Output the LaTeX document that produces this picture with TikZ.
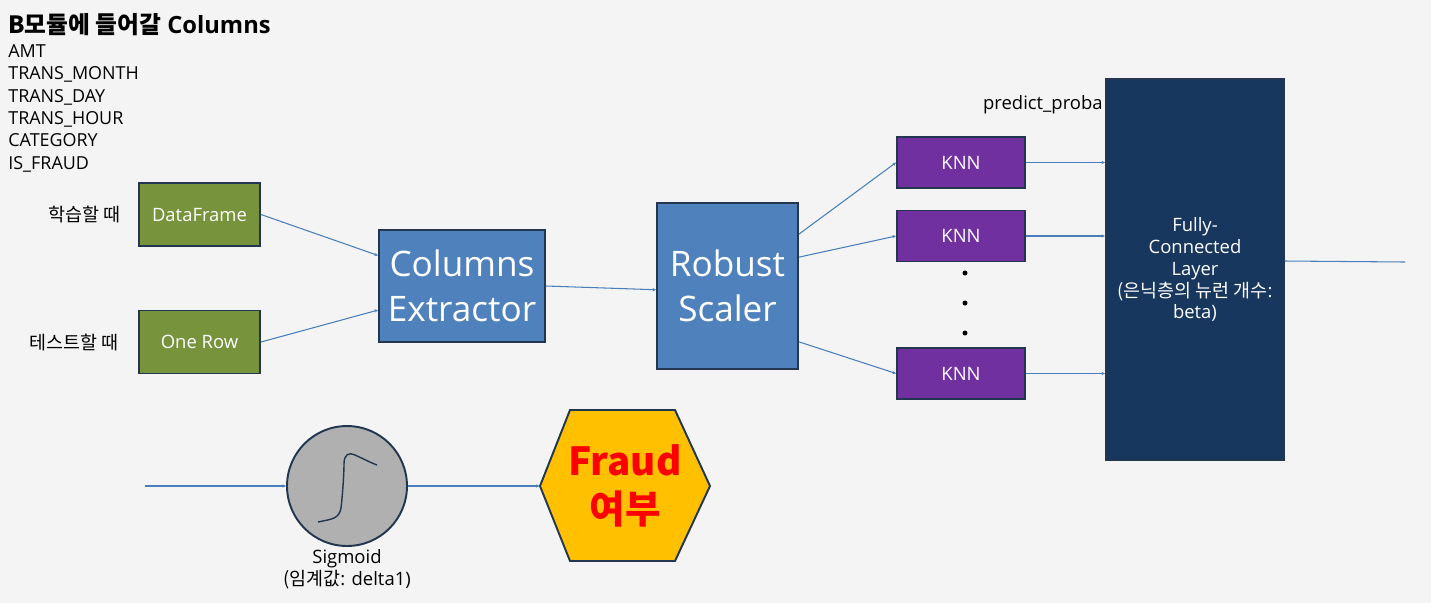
\documentclass[tikz,border=0pt]{standalone}
\usepackage{fontspec}
\setmainfont{Open Sans}
\newfontfamily\kr{Noto Sans CJK KR}
\usetikzlibrary{positioning, shapes.geometric, arrows.meta}

\definecolor{bgGray}{HTML}{F4F4F4}
\definecolor{boxLine}{HTML}{22364F}
\definecolor{dfGreen}{HTML}{77933C}
\definecolor{stepBlue}{HTML}{4F81BD}
\definecolor{knnPurple}{HTML}{7030A0}
\definecolor{fcNavy}{HTML}{17375E}
\definecolor{sigGray}{HTML}{B0B0B0}
\definecolor{fraudYellow}{HTML}{FFC000}
\definecolor{linkBlue}{HTML}{4A7EBB}

\tikzset{
    box/.style={draw=boxLine, line width=1.1pt, text=white, align=center, inner sep=0pt},
    inbox/.style={box, fill=dfGreen, minimum width=2.42cm, minimum height=1.26cm, font=\fontsize{10.5}{12.5}\selectfont},
    bigbox/.style={box, fill=stepBlue, font=\fontsize{20}{25.5}\selectfont},
    knnbox/.style={box, fill=knnPurple, minimum width=2.56cm, minimum height=1.02cm, font=\fontsize{10.5}{12.5}\selectfont},
    side/.style={font=\kr\fontsize{10.5}{12.5}\selectfont, inner sep=0pt},
    link/.style={draw=linkBlue, line width=0.6pt, ->},
}

\begin{document}
\begin{tikzpicture}[x=0.02cm, y=-0.02cm, >={Stealth[length=2pt,width=1.8pt]}]
    \useasboundingbox[fill=bgGray] (0,0) rectangle (1431,603);

    % Columns list
    \node[anchor=west, inner sep=0pt, font=\fontsize{13.5}{15}\selectfont\bfseries] (title) at (8,25) {{\kr\bfseries B모듈에 들어갈} Columns};
    \node[anchor=north west, inner sep=0pt, align=left, font=\fontsize{10.2}{12.75}\selectfont] (cols) at (8,44)
        {AMT\\TRANS\_MONTH\\TRANS\_DAY\\TRANS\_HOUR\\CATEGORY\\IS\_FRAUD};

    % Inputs
    \node[inbox] (df) at (199.5,214.5) {DataFrame};
    \node[side, left=0.34cm of df] (train) {학습할 때};
    \node[inbox] (onerow) at (199.5,342) {One Row};
    \node[side, left=0.38cm of onerow] (test) {테스트할 때};

    % Preprocessing
    \node[bigbox, minimum width=3.32cm, minimum height=2.24cm] (colx) at (462,286) {Columns\\Extractor};
    \node[bigbox, minimum width=2.82cm, minimum height=3.32cm] (scaler) at (727.5,286) {Robust\\Scaler};

    % KNN models
    \node[knnbox] (knn1) at (961,162.5) {KNN};
    \node[knnbox] (knn2) at (961,236) {KNN};
    \node[knnbox] (knn3) at (961,373.5) {KNN};
    \foreach \y in {273,303,333}
        \fill (965,\y) circle (2.5);
    \node[anchor=east, inner sep=0pt, font=\fontsize{10.5}{12.5}\selectfont] (proba) at (1103,105) {predict\_proba};

    % Fully-connected layer
    \node[box, fill=fcNavy, minimum width=3.56cm, minimum height=7.62cm, font=\fontsize{10.5}{12.5}\selectfont] (fc) at (1195,269.5)
        {Fully-\\Connected\\Layer\\{\kr (은닉층의 뉴런 개수}:\\beta)};
    \coordinate (fcout) at (1405,262);

    % Sigmoid
    \coordinate (sigin) at (145,486);
    \node[circle, draw=boxLine, line width=1.1pt, fill=sigGray, minimum size=2.4cm, inner sep=0pt] (sig) at (347,486) {};
    \draw[boxLine, line width=0.8pt] ([shift={(-29,36)}]sig.center) .. controls ([shift={(-15,33)}]sig.center) and ([shift={(-8,33)}]sig.center) .. ([shift={(-6,22)}]sig.center)
        .. controls ([shift={(-4,5)}]sig.center) and ([shift={(-3,-15)}]sig.center) .. ([shift={(-3,-22)}]sig.center)
        .. controls ([shift={(-3,-32)}]sig.center) and ([shift={(2,-34)}]sig.center) .. ([shift={(8,-31)}]sig.center)
        .. controls ([shift={(15,-28)}]sig.center) and ([shift={(22,-24)}]sig.center) .. ([shift={(30,-21)}]sig.center);
    \node[below=0.04cm of sig, align=center, inner sep=0pt, font=\fontsize{10.5}{12.5}\selectfont] (siglabel) {Sigmoid\\{\kr (임계값}: delta1)};

    % Output
    \coordinate (hexc) at (625,486);
    \draw[draw=boxLine, line width=1.1pt, fill=fraudYellow] ([shift={(-85,0)}]hexc) -- ([shift={(-55,-76)}]hexc) -- ([shift={(50,-76)}]hexc)
        -- ([shift={(85,0)}]hexc) -- ([shift={(50,75)}]hexc) -- ([shift={(-55,75)}]hexc) -- cycle;
    \node[minimum width=3.4cm, inner sep=0pt, align=center, text=red, font=\kr\fontsize{22}{27}\selectfont\bfseries] (fraud) at (hexc) {Fraud\\여부};

    % Relationships
    \draw[link] (df.east) -- (colx.160);
    \draw[link] (onerow.east) -- (colx.196);
    \draw[link] (colx.east) -- (scaler.183);
    \draw[link] (scaler.36) -- (knn1.west);
    \draw[link] (scaler.22) -- (knn2.west);
    \draw[link] (scaler.322) -- (knn3.west);
    \draw[link] (knn1.east) -- (knn1.east -| fc.west);
    \draw[link] (knn2.east) -- (knn2.east -| fc.west);
    \draw[link] (knn3.east) -- (knn3.east -| fc.west);
    \draw[link, -] ([yshift=0.17cm]fc.east) -- (fcout);
    \draw[link] (sigin) -- (sig);
    \draw[link] (sig) -- (fraud);
\end{tikzpicture}
\end{document}
